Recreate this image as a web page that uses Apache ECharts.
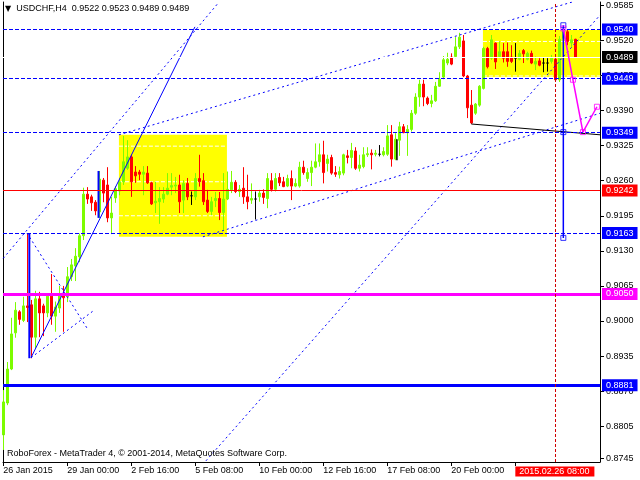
<!DOCTYPE html>
<html><head><meta charset="utf-8">
<script src="https://cdn.jsdelivr.net/npm/echarts@6/dist/echarts.min.js"></script>
<style>html,body{margin:0;padding:0;background:#fff}#c{width:640px;height:480px}</style>
</head><body><div id="c"></div>
<script>
// ---- data (USDCHF H4, bars indexed from 26 Jan 2015 08:00) ----
const opens = [0.8789,0.8848,0.8911,0.8978,0.9017,0.9001,0.9028,0.9030,0.8970,0.9041,
0.9028,0.9015,0.9046,0.9009,0.9024,0.9048,0.9045,0.9082,0.9102,0.9119,
0.9158,0.9235,0.9230,0.9220,0.9202,0.9261,0.9252,0.9191,0.9228,0.9241,
0.9258,0.9283,0.9304,0.9276,0.9276,0.9272,0.9274,0.9256,0.9219,0.9221,
0.9226,0.9235,0.9248,0.9250,0.9252,0.9224,0.9255,0.9232,0.9230,0.9264,
0.9260,0.9224,0.9203,0.9223,0.9227,0.9201,0.9226,0.9243,0.9257,0.9240,
0.9246,0.9230,0.9224,0.9226,0.9230,0.9237,0.9227,0.9260,0.9244,0.9266,
0.9258,0.9250,0.9264,0.9250,0.9250,0.9285,0.9264,0.9275,0.9285,0.9295,
0.9308,0.9292,0.9303,0.9275,0.9271,0.9274,0.9306,0.9303,0.9315,0.9283,
0.9286,0.9308,0.9311,0.9309,0.9309,0.9308,0.9309,0.9345,0.9300,0.9335,
0.9360,0.9349,0.9355,0.9385,0.9415,0.9439,0.9413,0.9403,0.9408,0.9435,
0.9452,0.9478,0.9489,0.9490,0.9508,0.9519,0.9454,0.9400,0.9385,0.9400,
0.9431,0.9505,0.9487,0.9515,0.9490,0.9499,0.9499,0.9489,0.9487,0.9485,
0.9501,0.9485,0.9496,0.9476,0.9482,0.9478,0.9478,0.9481,0.9485,0.9447,
0.9524,0.9536,0.9515,0.9522];
const highs = [0.8872,0.8924,0.9006,0.9035,0.9020,0.9045,0.9163,0.9039,0.9056,0.9054,
0.9032,0.9048,0.9087,0.9036,0.9065,0.9065,0.9100,0.9115,0.9135,0.9162,
0.9247,0.9248,0.9234,0.9224,0.9278,0.9265,0.9285,0.9230,0.9250,0.9265,
0.9343,0.9335,0.9308,0.9287,0.9280,0.9287,0.9287,0.9258,0.9258,0.9248,
0.9248,0.9274,0.9274,0.9267,0.9271,0.9261,0.9265,0.9240,0.9274,0.9308,
0.9274,0.9243,0.9230,0.9239,0.9239,0.9274,0.9277,0.9278,0.9261,0.9252,
0.9285,0.9271,0.9255,0.9240,0.9243,0.9244,0.9274,0.9274,0.9274,0.9274,
0.9267,0.9271,0.9279,0.9264,0.9295,0.9297,0.9283,0.9297,0.9329,0.9329,
0.9334,0.9308,0.9308,0.9287,0.9286,0.9310,0.9317,0.9330,0.9322,0.9308,
0.9322,0.9322,0.9318,0.9317,0.9326,0.9322,0.9363,0.9363,0.9348,0.9369,
0.9365,0.9363,0.9391,0.9422,0.9447,0.9447,0.9416,0.9419,0.9443,0.9461,
0.9491,0.9497,0.9496,0.9526,0.9534,0.9530,0.9456,0.9428,0.9404,0.9437,
0.9508,0.9508,0.9530,0.9516,0.9518,0.9515,0.9516,0.9511,0.9515,0.9502,
0.9504,0.9499,0.9501,0.9490,0.9487,0.9489,0.9487,0.9493,0.9489,0.9528,
0.9545,0.9541,0.9530,0.9523];
const lows = [0.8761,0.8844,0.8909,0.8969,0.8993,0.8998,0.8998,0.8931,0.8950,0.8970,
0.8972,0.9007,0.8993,0.8980,0.9015,0.8980,0.9035,0.9074,0.9074,0.9109,
0.9150,0.9217,0.9204,0.9196,0.9191,0.9220,0.9183,0.9161,0.9219,0.9233,
0.9252,0.9280,0.9230,0.9256,0.9261,0.9233,0.9254,0.9215,0.9200,0.9180,
0.9219,0.9233,0.9233,0.9237,0.9200,0.9200,0.9224,0.9215,0.9224,0.9249,
0.9215,0.9200,0.9196,0.9211,0.9187,0.9169,0.9224,0.9237,0.9237,0.9230,
0.9217,0.9207,0.9217,0.9188,0.9221,0.9217,0.9209,0.9240,0.9240,0.9250,
0.9248,0.9248,0.9224,0.9248,0.9247,0.9271,0.9258,0.9250,0.9283,0.9286,
0.9255,0.9277,0.9271,0.9267,0.9264,0.9270,0.9292,0.9283,0.9280,0.9277,
0.9283,0.9304,0.9281,0.9305,0.9305,0.9305,0.9306,0.9286,0.9298,0.9306,
0.9348,0.9306,0.9351,0.9382,0.9397,0.9398,0.9400,0.9396,0.9406,0.9434,
0.9448,0.9474,0.9474,0.9487,0.9504,0.9452,0.9376,0.9365,0.9382,0.9397,
0.9429,0.9468,0.9484,0.9467,0.9487,0.9479,0.9471,0.9478,0.9462,0.9483,
0.9478,0.9483,0.9476,0.9465,0.9472,0.9461,0.9462,0.9477,0.9443,0.9443,
0.9521,0.9511,0.9508,0.9489];
const closes = [0.8850,0.8911,0.8976,0.9020,0.9003,0.9028,0.9025,0.8970,0.9041,0.9015,
0.9015,0.9046,0.9009,0.9026,0.9048,0.9043,0.9082,0.9104,0.9120,0.9158,
0.9235,0.9226,0.9219,0.9204,0.9263,0.9237,0.9191,0.9200,0.9245,0.9258,
0.9295,0.9304,0.9258,0.9269,0.9272,0.9276,0.9256,0.9217,0.9222,0.9227,
0.9235,0.9246,0.9251,0.9252,0.9221,0.9255,0.9230,0.9232,0.9264,0.9258,
0.9221,0.9203,0.9221,0.9227,0.9201,0.9226,0.9244,0.9257,0.9240,0.9244,
0.9230,0.9221,0.9227,0.9226,0.9237,0.9229,0.9264,0.9244,0.9264,0.9256,
0.9249,0.9264,0.9250,0.9255,0.9285,0.9275,0.9275,0.9285,0.9295,0.9308,
0.9275,0.9300,0.9274,0.9272,0.9277,0.9308,0.9303,0.9316,0.9283,0.9289,
0.9308,0.9310,0.9308,0.9311,0.9309,0.9314,0.9343,0.9300,0.9337,0.9360,
0.9349,0.9355,0.9385,0.9415,0.9439,0.9415,0.9403,0.9408,0.9435,0.9448,
0.9484,0.9485,0.9476,0.9508,0.9526,0.9454,0.9395,0.9367,0.9402,0.9435,
0.9505,0.9471,0.9521,0.9480,0.9499,0.9487,0.9481,0.9481,0.9487,0.9496,
0.9495,0.9496,0.9478,0.9481,0.9474,0.9478,0.9478,0.9487,0.9447,0.9522,
0.9536,0.9518,0.9521,0.9489];

const xTickValues = [0,16,32,48,64,80,96,112,128];
const xTickLabels = ['26 Jan 2015','29 Jan 00:00','2 Feb 16:00','5 Feb 08:00','10 Feb 00:00',
  '12 Feb 16:00','17 Feb 08:00','20 Feb 00:00','2015.02.26 08:00'];
const yTickValues = [0.9585,0.9520,0.9455,0.9390,0.9325,0.9260,0.9195,0.9130,0.9065,0.9000,0.8935,0.8870,0.8805,0.8745];

// horizontal levels
const blueDashLevels = [0.9540, 0.9449, 0.9349, 0.9163];
const redLevel = 0.9242;
const magentaLevel = 0.9050;
const blueThickLevel = 0.8881;
const bidLevel = 0.9489;

// rectangles [x1, top, x2, bottom] in bars / price
const rect1 = [28.9, 0.9345, 55.9, 0.9156];
const rect2 = [119.9, 0.9539, 149.3, 0.9452];
const rect1Dash = [0.9324, 0.9258, 0.9195];
const rect2Dash = [0.9518, 0.9454];

// trend lines [[bar, price], ...]
const lineA = [[-0.83, 0.9109], [53.7, 0.9589]];
const lineB = [[6.92, 0.8932], [47.9, 0.9545]];
const lineC = [[6.92, 0.8932], [22.7, 0.9020]];
const lineD = [[5.92, 0.9163], [20.9, 0.8987]];
const lineG = [[28.9, 0.9345], [142.2, 0.9591]];
const lineH = [[49.9, 0.9156], [149.2, 0.9385]];
const lineI = [[49.0, 0.8727], [149.2, 0.9567]];
const lineJ = [[117, 0.9365], [149.2, 0.9345]];
const vertBlue1 = [[6.5, 0.9163], [6.5, 0.8931]];
const vertBlue2 = [[23.8, 0.9278], [23.8, 0.9191]];
const vertBlue3 = [[140, 0.9548], [140, 0.9154]];
const vertBlack = [[98.4, 0.9337], [98.4, 0.9298]];
const blueSquares = [[140, 0.9548], [140, 0.9350], [140, 0.9154]];
const magentaPath = [[140, 0.9542], [142.4, 0.9447], [144.9, 0.9350], [148.4, 0.9397]];
const cursorBar = 138;

// ---- chart ----
const FONT = 'Liberation Sans';
const BLUE = '#0000ff';
const last = opens.length - 1;
const f4 = v => v.toFixed(4);
const candleData = opens.map((o, i) => [i, o, closes[i], lows[i], highs[i]]);

function seg(data, color, width, type, z) {
  return {type: 'line', data: data, symbol: 'none', silent: true, animation: false,
    z: z || 4, clip: true, lineStyle: {color: color, width: width, type: type || 'solid'}};
}
function lvl(v, lineColor, width, type, bg) {
  return {yAxis: v, lineStyle: {color: lineColor, width: width, type: type},
    label: {show: true, position: 'end', distance: 2, formatter: f4(v), color: '#fff',
      backgroundColor: bg, padding: [1, 4, 0, 4], fontSize: 9, lineHeight: 11, fontFamily: FONT}};
}

const series = [];
// yellow rectangles
series.push({type: 'line', data: [], z: 1, silent: true, animation: false,
  markArea: {silent: true, animation: false, itemStyle: {color: '#ffff00'},
    data: [[{coord: [rect1[0], rect1[1]]}, {coord: [rect1[2], rect1[3]]}],
           [{coord: [rect2[0], rect2[1]]}, {coord: [rect2[2], rect2[3]]}]]}});
rect1Dash.forEach(v => series.push(seg([[rect1[0], v], [rect1[2], v]], '#ffffff', 1, [4, 2], 2)));
rect2Dash.forEach(v => series.push(seg([[rect2[0], v], [rect2[2], v]], '#ffffff', 1, [4, 2], 2)));

// candles
series.push({type: 'candlestick', data: candleData, encode: {x: 0, y: [1, 2, 3, 4]},
  barWidth: 2, z: 3, silent: true, animation: false, large: false,
  itemStyle: {color: '#7cfc00', color0: '#ff0000', borderColor: '#7cfc00', borderColor0: '#ff0000',
    borderColorDoji: '#000000', borderWidth: 1}});

// horizontal levels with price tags
series.push({type: 'line', data: [], z: 5, silent: true, animation: false,
  markLine: {symbol: ['none', 'none'], silent: true, animation: false, precision: 4,
    data: [
      lvl(bidLevel, '#ffffff', 1, 'solid', '#000000'),
      ...blueDashLevels.map(v => lvl(v, BLUE, 1, [4, 2], BLUE)),
      lvl(redLevel, '#ff0000', 1, 'solid', '#ff0000'),
      lvl(magentaLevel, '#ff00ff', 3, 'solid', '#ff00ff'),
      lvl(blueThickLevel, BLUE, 3, 'solid', BLUE),
      {xAxis: cursorBar, lineStyle: {color: '#d00000', width: 1, type: [3, 2]}, label: {show: false}}
    ]}});

// trend lines
series.push(seg(lineA, BLUE, 1, [2, 3]));
series.push(seg(lineB, BLUE, 1, 'solid'));
series.push(seg(lineC, BLUE, 1, [2, 3]));
series.push(seg(lineD, BLUE, 1, [2, 3]));
series.push(seg(lineG, BLUE, 1, [2, 3]));
series.push(seg(lineH, BLUE, 1, [2, 3]));
series.push(seg(lineI, BLUE, 1, [2, 3]));
series.push(seg(lineJ, '#000000', 1, 'solid'));
series.push(seg(vertBlue1, BLUE, 2, 'solid'));
series.push(seg(vertBlue2, BLUE, 2, 'solid'));
series.push(seg(vertBlue3, BLUE, 1.5, 'solid'));
series.push(seg(vertBlack, '#000000', 1.5, 'solid'));
series.push(seg(magentaPath, '#ff00ff', 1.5, 'solid', 6));
series.push({type: 'scatter', data: blueSquares, symbol: 'rect', symbolSize: 5, z: 7, silent: true, animation: false,
  itemStyle: {color: 'rgba(0,0,0,0)', borderColor: BLUE, borderWidth: 1}});
series.push({type: 'scatter', data: magentaPath, symbol: 'rect', symbolSize: 5, z: 7, silent: true, animation: false,
  itemStyle: {color: 'rgba(0,0,0,0)', borderColor: '#ff00ff', borderWidth: 1}});

const option = {
  backgroundColor: '#ffffff',
  animation: false,
  title: [
    {text: '{tri|▼}USDCHF,H4  ' + [opens[last], highs[last], lows[last], closes[last]].map(f4).join(' '),
      left: 5, top: 4, padding: 0,
      textStyle: {fontSize: 9, fontWeight: 'normal', color: '#000', fontFamily: FONT,
        rich: {tri: {fontSize: 8, padding: [0, 5, 0, 0], fontFamily: 'DejaVu Sans'}}}},
    {text: 'RoboForex - MetaTrader 4, © 2001-2014, MetaQuotes Software Corp.',
      left: 7, top: 449, padding: 0,
      textStyle: {fontSize: 9, fontWeight: 'normal', color: '#000', fontFamily: FONT}}
  ],
  grid: {left: 3, right: 40, top: 2, bottom: 18, containLabel: false},
  xAxis: {type: 'value', min: -0.083, max: 149.167, position: 'bottom',
    axisLine: {show: true, onZero: false, lineStyle: {color: '#000', width: 1}},
    axisTick: {show: true, customValues: xTickValues, length: 4, lineStyle: {color: '#000'}},
    splitLine: {show: false},
    axisLabel: {show: true, customValues: xTickValues, align: 'left', margin: 4, fontSize: 9,
      fontFamily: FONT, color: '#000',
      formatter: (v, i) => {
        const k = xTickValues.indexOf(Math.round(v));
        const t = k >= 0 ? xTickLabels[k] : '';
        return k === xTickValues.length - 1 ? '{hl|' + t + '}' : t;
      },
      rich: {hl: {backgroundColor: '#ff0000', color: '#fff', padding: [1, 5, 0, 4], fontSize: 9,
        lineHeight: 11, fontFamily: FONT}}}},
  yAxis: [
    {type: 'value', position: 'right', min: 0.87387, max: 0.95911,
      axisLine: {show: true, onZero: false, lineStyle: {color: '#000', width: 1}},
      axisTick: {show: true, customValues: yTickValues, length: 4, lineStyle: {color: '#000'}},
      splitLine: {show: false},
      axisLabel: {show: true, customValues: yTickValues, formatter: v => f4(v), margin: 6,
        fontSize: 9, fontFamily: FONT, color: '#000'}},
    {type: 'value', position: 'left', min: 0.87387, max: 0.95911,
      axisLine: {show: true, onZero: false, lineStyle: {color: '#000', width: 1}},
      axisTick: {show: false}, axisLabel: {show: false}, splitLine: {show: false}}
  ],
  series: series
};
const chart = echarts.init(document.getElementById('c'));
chart.setOption(option);
</script>
</body></html>
